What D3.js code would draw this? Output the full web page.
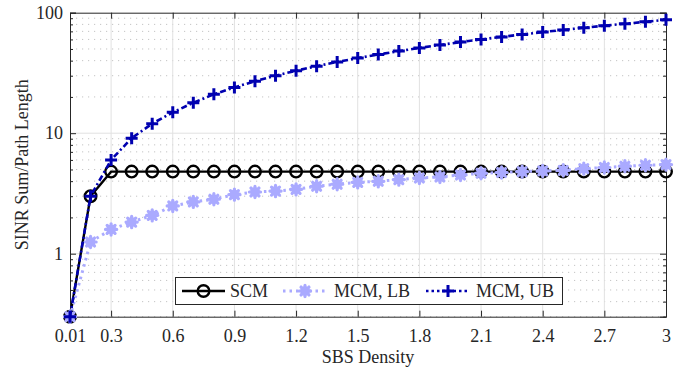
<!DOCTYPE html>
<html><head><meta charset="utf-8">
<script src="https://cdn.jsdelivr.net/npm/d3@7"></script>
<style>body{margin:0;background:#fff}svg{display:block}svg text{font-family:"Liberation Serif","Times New Roman";}</style>
</head><body><svg id="c" width="692" height="373"></svg>
<script>
const xPositions = [0.1,0.2,0.3,0.4,0.5,0.6,0.7,0.8,0.9,1.0,1.1,1.2,1.3,1.4,1.5,1.6,1.7,1.8,1.9,2.0,2.1,2.2,2.3,2.4,2.5,2.6,2.7,2.8,2.9,3.0];
const scm = [0.3,3.0,4.8,4.8,4.8,4.8,4.8,4.8,4.8,4.8,4.8,4.8,4.8,4.8,4.8,4.8,4.8,4.8,4.8,4.8,4.8,4.8,4.8,4.8,4.8,4.8,4.8,4.8,4.8,4.8];
const mcmLB = [0.3,1.25,1.59,1.83,2.08,2.49,2.69,2.83,3.09,3.25,3.31,3.42,3.63,3.77,3.91,3.99,4.12,4.25,4.33,4.5,4.65,4.72,4.8,4.86,4.92,5.08,5.19,5.32,5.42,5.49];
const mcmUB = [0.3,3.0,6,9.1,12,14.9,17.9,21,24,27,30,33,36,39,42,45,48,51,54,57,60,63,66,69,72,75,78,81,84,87.5];
const xTickValues = [0.1,0.3,0.6,0.9,1.2,1.5,1.8,2.1,2.4,2.7,3.0];
const xTickLabels = ["0.01","0.3","0.6","0.9","1.2","1.5","1.8","2.1","2.4","2.7","3"];
const yTickValues = [1,10,100];
const yTickLabels = ["1","10","100"];
const seriesNames = ["SCM","MCM, LB","MCM, UB"];

const FONT='"Liberation Serif", "Times New Roman"';
const L=70,R=666,T=12.7,B=316.7;
const svg=d3.select("#c");
const x=d3.scaleLinear().domain([0.1,3]).range([L,R]);
const y=d3.scaleLog().domain([0.3,100]).range([B,T]);
const axisCol="#262626";
const fs=18;

const minorY=[];
[0.1,1,10].forEach(d=>{for(let k=2;k<=9;k++){const v=d*k; if(v>=0.3&&v<100&&v!==1&&v!==10) minorY.push(v);}});

const g=svg.append("g");
g.selectAll(".mg").data(minorY).join("line")
 .attr("x1",L).attr("x2",R).attr("y1",d=>y(d)).attr("y2",d=>y(d))
 .attr("stroke","#c4c4c4").attr("stroke-width",1).attr("stroke-dasharray","1.2,4.8");
g.selectAll(".gx").data(xTickValues.slice(1,-1)).join("line")
 .attr("x1",d=>x(d)).attr("x2",d=>x(d)).attr("y1",T).attr("y2",B)
 .attr("stroke","#e1e1e1").attr("stroke-width",1);
g.selectAll(".gy").data([1,10]).join("line")
 .attr("x1",L).attr("x2",R).attr("y1",d=>y(d)).attr("y2",d=>y(d))
 .attr("stroke","#e1e1e1").attr("stroke-width",1);

const xb=d3.axisBottom(x).tickValues(xTickValues).tickSize(-6).tickPadding(13).tickFormat((d,i)=>xTickLabels[i]);
const xt=d3.axisTop(x).tickValues(xTickValues).tickSize(-6).tickFormat("");
const yl=d3.axisLeft(y).tickValues(yTickValues).tickSize(-6).tickPadding(7).tickFormat((d,i)=>yTickLabels[i]);
const yr=d3.axisRight(y).tickValues(yTickValues).tickSize(-6).tickFormat("");
const ylm=d3.axisLeft(y).tickValues(minorY).tickSize(-3).tickFormat("");
const yrm=d3.axisRight(y).tickValues(minorY).tickSize(-3).tickFormat("");
function style(sel){sel.attr("font-family",null).attr("font-size",null);sel.selectAll("path,line").attr("stroke",axisCol).attr("stroke-width",1);sel.selectAll("text").style("font-size",fs+"px").style("font-family",FONT).attr("fill",axisCol);}
g.append("g").attr("transform",`translate(0,${B})`).call(xb).call(style);
g.append("g").attr("transform",`translate(0,${T})`).call(xt).call(style);
g.append("g").attr("transform",`translate(${L},0)`).call(yl).call(style);
g.append("g").attr("transform",`translate(${R},0)`).call(yr).call(style);
g.append("g").attr("transform",`translate(${L},0)`).call(ylm).call(style).select(".domain").remove();
g.append("g").attr("transform",`translate(${R},0)`).call(yrm).call(style).select(".domain").remove();

svg.append("text").attr("x",(L+R)/2).attr("y",363).attr("text-anchor","middle").style("font-size",fs+"px").style("font-family",FONT).attr("fill",axisCol).text("SBS Density");
svg.append("text").attr("transform",`translate(28,${(T+B)/2}) rotate(-90)`).attr("text-anchor","middle").style("font-size",fs+"px").style("font-family",FONT).attr("fill",axisCol).text("SINR Sum/Path Length");

const line=d3.line().x((d,i)=>x(xPositions[i])).y(d=>y(d));
const cSCM="#000000", cLB="#aaaaff", cUB="#0000b0";

function starPath(r){
  let p="";
  for(let k=0;k<4;k++){const a=k*Math.PI/4;p+=`M${-r*Math.cos(a)},${-r*Math.sin(a)}L${r*Math.cos(a)},${r*Math.sin(a)}`;}
  return p;
}
function drawSCMMarker(sel){sel.append("circle").attr("r",5.8).attr("fill","none").attr("stroke",cSCM).attr("stroke-width",2.4);}
function drawLBMarker(sel){sel.append("circle").attr("r",4.8).attr("fill",cLB);sel.append("path").attr("d",starPath(5.6)).attr("stroke",cLB).attr("stroke-width",3.2).attr("stroke-linecap","round");}
function drawUBMarker(sel){sel.append("path").attr("d","M-6,0L6,0M0,-6L0,6").attr("stroke",cUB).attr("stroke-width",3);}

const plot=svg.append("g");
plot.append("path").datum(scm).attr("d",line).attr("fill","none").attr("stroke",cSCM).attr("stroke-width",2.4);
plot.selectAll(".ms").data(scm).join("g").attr("transform",(d,i)=>`translate(${x(xPositions[i])},${y(d)})`).each(function(){drawSCMMarker(d3.select(this));});
plot.append("path").datum(mcmLB).attr("d",line).attr("fill","none").attr("stroke",cLB).attr("stroke-width",3).attr("stroke-dasharray","2.5,4");
plot.selectAll(".ml").data(mcmLB).join("g").attr("transform",(d,i)=>`translate(${x(xPositions[i])},${y(d)})`).each(function(){drawLBMarker(d3.select(this));});
plot.append("path").datum(mcmUB).attr("d",line).attr("fill","none").attr("stroke",cUB).attr("stroke-width",2.6).attr("stroke-dasharray","6,3,2,3");
plot.selectAll(".mu").data(mcmUB).join("g").attr("transform",(d,i)=>`translate(${x(xPositions[i])},${y(d)})`).each(function(){drawUBMarker(d3.select(this));});

const lg=svg.append("g");
lg.append("rect").attr("x",175.5).attr("y",277.5).attr("width",387).attr("height",27).attr("fill","#fff").attr("stroke",axisCol).attr("stroke-width",1);
const ly=291;
const entries=[{x1:182,x2:225,tx:230,draw:drawSCMMarker,col:cSCM,dash:null,w:2.4},
               {x1:283,x2:327,tx:334,draw:drawLBMarker,col:cLB,dash:"2.5,4",w:3},
               {x1:426,x2:470,tx:476,draw:drawUBMarker,col:cUB,dash:"2.5,3",w:2.6}];
entries.forEach((e,i)=>{
  const l=lg.append("line").attr("x1",e.x1).attr("x2",e.x2).attr("y1",ly).attr("y2",ly).attr("stroke",e.col).attr("stroke-width",e.w);
  if(e.dash) l.attr("stroke-dasharray",e.dash);
  const m=lg.append("g").attr("transform",`translate(${(e.x1+e.x2)/2},${ly})`);
  e.draw(m);
  lg.append("text").attr("x",e.tx).attr("y",ly+6).style("font-size",fs+"px").style("font-family",FONT).attr("fill",axisCol).text(seriesNames[i]);
});
</script></body></html>
